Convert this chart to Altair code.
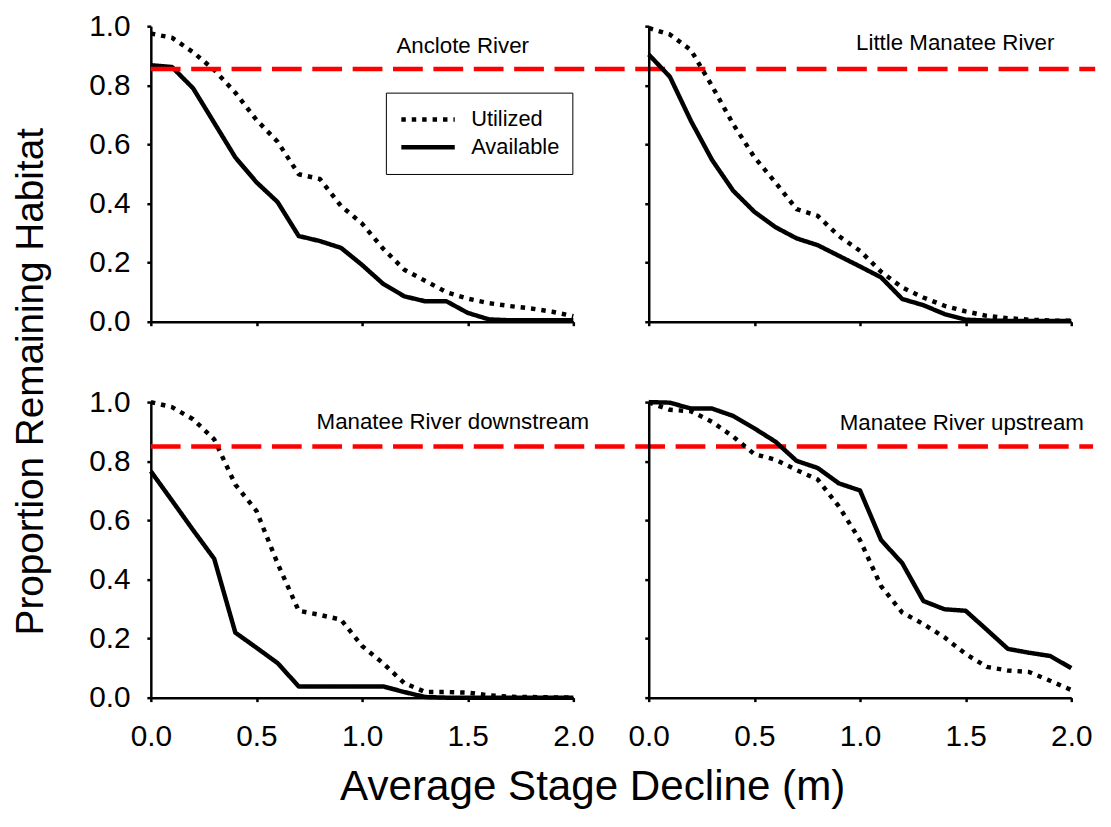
import altair as alt
import pandas as pd

FONT = "Liberation Sans"

stage = [0.0, 0.1, 0.2, 0.3, 0.4, 0.5, 0.6, 0.7, 0.8, 0.9, 1.0,
         1.1, 1.2, 1.3, 1.4, 1.5, 1.6, 1.7, 1.8, 1.9, 2.0]

rivers = ["Anclote River", "Little Manatee River",
          "Manatee River downstream", "Manatee River upstream"]

utilized_anclote = [0.975, 0.961, 0.912, 0.852, 0.775, 0.683, 0.609, 0.499, 0.483, 0.392, 0.332,
                    0.247, 0.176, 0.138, 0.100, 0.078, 0.063, 0.053, 0.045, 0.034, 0.019]
available_anclote = [0.868, 0.862, 0.790, 0.673, 0.556, 0.472, 0.405, 0.290, 0.273, 0.250, 0.192,
                     0.128, 0.086, 0.069, 0.069, 0.030, 0.008, 0.005, 0.005, 0.005, 0.005]

utilized_little = [0.994, 0.972, 0.919, 0.797, 0.668, 0.557, 0.471, 0.381, 0.358, 0.290, 0.240,
                   0.169, 0.116, 0.082, 0.054, 0.035, 0.020, 0.012, 0.007, 0.004, 0.003]
available_little = [0.904, 0.829, 0.679, 0.547, 0.443, 0.372, 0.320, 0.282, 0.259, 0.223, 0.187,
                    0.150, 0.077, 0.056, 0.026, 0.007, 0.004, 0.003, 0.003, 0.003, 0.003]

utilized_down = [1.000, 0.983, 0.942, 0.874, 0.721, 0.632, 0.454, 0.294, 0.280, 0.264, 0.175,
                 0.116, 0.049, 0.019, 0.019, 0.017, 0.008, 0.003, 0.002, 0.001, 0.000]
available_down = [0.766, 0.667, 0.567, 0.470, 0.220, 0.169, 0.117, 0.038, 0.038, 0.038, 0.038,
                  0.038, 0.019, 0.002, 0.000, 0.000, 0.000, 0.000, 0.000, 0.000, 0.000]

utilized_up = [0.999, 0.974, 0.969, 0.933, 0.883, 0.824, 0.805, 0.770, 0.738, 0.647, 0.533,
               0.377, 0.288, 0.249, 0.204, 0.148, 0.104, 0.092, 0.087, 0.057, 0.026]
available_up = [1.000, 0.998, 0.978, 0.978, 0.953, 0.911, 0.866, 0.801, 0.777, 0.725, 0.701,
                0.533, 0.455, 0.327, 0.299, 0.294, 0.230, 0.165, 0.152, 0.141, 0.100]

utilized = [utilized_anclote, utilized_little, utilized_down, utilized_up]
available = [available_anclote, available_little, available_down, available_up]

# threshold (proportion of habitat) drawn as the red dashed reference line
thresholds = [0.855, 0.855, 0.85, 0.85]
# how far (in stage units) the reference line runs from the left-panel origin
threshold_end = [4.47, None, 4.46, None]

# river-name label anchor (right end of text), in data units
label_x = [1.79, 1.92, 2.075, 2.06]
label_y = [0.908, 0.918, 0.908, 0.906]

x_ticks = [0.0, 0.5, 1.0, 1.5, 2.0]
y_ticks = [0.0, 0.2, 0.4, 0.6, 0.8, 1.0]

W, H = 426, 298

legend = alt.Legend(
    title=None, orient="none", legendX=237, legendY=67,
    strokeColor="black", fillColor="white", padding=13,
    symbolType="stroke", symbolSize=2900, symbolStrokeWidth=4.5,
    symbolStrokeColor="black",
    labelFont=FONT, labelFontSize=22, labelColor="black", labelOffset=14,
    clipHeight=28, rowPadding=0,
)


def make_panel(i):
    rows = []
    for s, u, a in zip(stage, utilized[i], available[i]):
        rows.append({"stage": s, "value": u, "series": "Utilized"})
        rows.append({"stage": s, "value": a, "series": "Available"})
    df = pd.DataFrame(rows)

    bottom = i >= 2
    left = i % 2 == 0

    xaxis_kw = dict(values=x_ticks, format=".1f", labels=bottom, labelPadding=20,
                    labelFlush=False)
    if i == 2:
        xaxis_kw.update(title="Average Stage Decline (m)", titleX=445, titleY=103,
                        titleAlign="center", titleBaseline="alphabetic",
                        titleFontSize=42.5, titleFont=FONT, titleFontWeight="normal",
                        titleColor="black")
    else:
        xaxis_kw.update(title=None)
    yaxis_kw = dict(values=y_ticks, format=".1f", labels=left, labelPadding=17,
                    labelFlush=False)
    if i == 0:
        yaxis_kw.update(title="Proportion Remaining Habitat", titleX=-109, titleY=358,
                        titleAngle=270, titleAlign="center", titleBaseline="alphabetic",
                        titleFontSize=39, titleFont=FONT, titleFontWeight="normal",
                        titleColor="black")
    else:
        yaxis_kw.update(title=None)

    xs = alt.Scale(domain=[0, 2], nice=False, zero=False)
    ys = alt.Scale(domain=[0, 1], nice=False)

    lines = alt.Chart(df).mark_line(
        color="black", strokeWidth=4.5, strokeCap="butt", strokeJoin="round"
    ).encode(
        x=alt.X("stage:Q", scale=xs, axis=alt.Axis(**xaxis_kw)),
        y=alt.Y("value:Q", scale=ys, axis=alt.Axis(**yaxis_kw)),
        strokeDash=alt.StrokeDash(
            "series:N",
            scale=alt.Scale(domain=["Utilized", "Available"],
                            range=[[4.5, 6], [1, 0]]),
            legend=legend,
        ),
        detail="series:N",
    )

    layers = [lines]
    if threshold_end[i] is not None:
        tdf = pd.DataFrame({"x0": [0.0], "x1": [threshold_end[i]], "y": [thresholds[i]]})
        rule = alt.Chart(tdf).mark_rule(
            color="#ff0000", strokeWidth=4.5, strokeDash=[30, 10.7]
        ).encode(x="x0:Q", x2="x1:Q", y="y:Q")
        layers.append(rule)

    ldf = pd.DataFrame({"label": [rivers[i]], "lx": [label_x[i]], "ly": [label_y[i]]})
    text = alt.Chart(ldf).mark_text(
        align="right", baseline="alphabetic", font=FONT, fontSize=22.5, color="black"
    ).encode(x="lx:Q", y="ly:Q", text="label:N")
    layers.append(text)

    return alt.layer(*layers).properties(width=W, height=H)


panels = [make_panel(i) for i in range(4)]

chart = alt.concat(
    *panels, columns=2,
    spacing=alt.RowColnumber(row=81, column=76),
    bounds="flush",
).properties(
    padding={"left": 4, "top": 0, "right": 5, "bottom": 5},
    background="white",
).configure_view(stroke=None).configure_axis(
    grid=False, domainColor="black", domainWidth=2.5, tickColor="black",
    tickWidth=2.5, tickSize=4, labelFont=FONT, labelFontSize=30, labelColor="black",
)

chart.save("out.html", embed_options={"renderer": "svg", "actions": False})
